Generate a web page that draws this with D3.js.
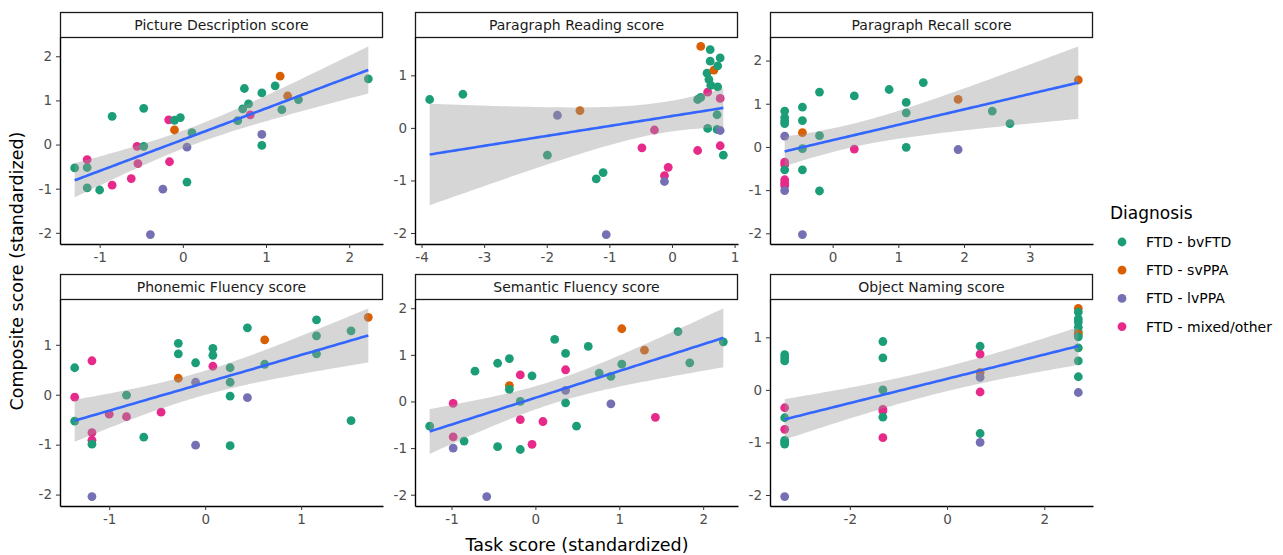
<!DOCTYPE html>
<html>
<head>
<meta charset="utf-8">
<script src="https://cdn.jsdelivr.net/npm/d3@7"></script>
<style>
  body { margin: 0; background: #fff; }
  svg { font-family: "DejaVu Sans", sans-serif; }
</style>
</head>
<body>
<div id="chart"></div>
<script>
// diagnosis groups and their colours (Dark2)
const groups = ["FTD - bvFTD", "FTD - svPPA", "FTD - lvPPA", "FTD - mixed/other"]
const groupColors = ["#1B9E77", "#D95F02", "#7570B3", "#E7298A"]

const panelTitles = ["Picture Description score", "Paragraph Reading score", "Paragraph Recall score",
    "Phonemic Fluency score", "Semantic Fluency score", "Object Naming score"]

// [task score, composite score, group index]
const pictureDescription = [
    [-1.30, -0.53, 0], [-1.15, -0.52, 0], [-1.15, -0.34, 3], [-1.15, -0.98, 0], [-1.00, -1.03, 0],
    [-0.85, 0.64, 0], [-0.85, -0.92, 3], [-0.62, -0.77, 3], [-0.55, -0.04, 3], [-0.54, -0.43, 3],
    [-0.47, 0.82, 0], [-0.47, -0.04, 0], [-0.39, -2.04, 2], [-0.24, -1.01, 2], [-0.17, 0.56, 3],
    [-0.16, -0.39, 3], [-0.10, 0.33, 1], [-0.10, 0.55, 0], [-0.03, 0.61, 0], [0.05, -0.06, 2],
    [0.05, -0.85, 0], [0.11, 0.27, 0], [0.66, 0.54, 0], [0.74, 1.27, 0], [0.72, 0.81, 0],
    [0.79, 0.92, 0], [0.81, 0.67, 3], [0.95, 0.23, 2], [0.95, -0.02, 0], [0.95, 1.17, 0],
    [1.11, 1.33, 0], [1.17, 1.55, 1], [1.19, 0.79, 0], [1.26, 1.10, 1], [1.39, 1.02, 0],
    [2.23, 1.49, 0]
]

const paragraphReading = [
    [-3.87, 0.54, 0], [-3.34, 0.64, 0], [-1.83, 0.24, 2], [-1.47, 0.33, 1], [-1.99, -0.52, 0],
    [-1.21, -0.97, 0], [-1.10, -0.85, 0], [-1.05, -2.03, 2], [-0.48, -0.38, 3], [-0.28, -0.04, 3],
    [-0.12, -0.91, 3], [-0.06, -0.75, 3], [-0.12, -1.02, 2], [0.41, -0.43, 3], [0.41, 0.54, 0],
    [0.46, 0.58, 0], [0.46, 1.55, 1], [0.57, 0.68, 3], [0.57, -0.01, 0], [0.56, 1.04, 0],
    [0.61, 1.49, 0], [0.61, 1.27, 0], [0.59, 0.92, 0], [0.62, 0.81, 0], [0.67, 1.10, 1],
    [0.73, 1.18, 0], [0.73, 0.78, 0], [0.72, 0.25, 0], [0.72, -0.03, 0], [0.77, 1.33, 0],
    [0.77, -0.05, 2], [0.77, 0.56, 3], [0.77, -0.34, 3], [0.82, -0.52, 0]
]

const paragraphRecall = [
    [-0.73, 0.83, 0], [-0.73, 0.68, 0], [-0.73, 0.60, 0], [-0.73, 0.54, 0], [-0.73, 0.25, 2],
    [-0.73, -0.35, 3], [-0.73, -0.41, 3], [-0.73, -0.53, 0], [-0.73, -0.76, 3], [-0.73, -0.84, 3],
    [-0.73, -0.90, 3], [-0.73, -1.01, 2], [-0.46, 0.92, 0], [-0.46, 0.61, 0], [-0.46, 0.33, 1],
    [-0.46, -0.04, 0], [-0.46, -0.53, 0], [-0.46, -2.03, 2], [-0.20, 1.27, 0], [-0.20, 0.26, 0],
    [-0.20, -1.02, 0], [0.33, 1.18, 0], [0.33, -0.05, 3], [0.86, 1.33, 0], [1.12, 1.03, 0],
    [1.12, 0.79, 0], [1.12, -0.01, 0], [1.38, 1.49, 0], [1.91, 1.10, 1], [1.91, -0.06, 2],
    [2.43, 0.83, 0], [2.70, 0.54, 0], [3.74, 1.55, 1]
]

const phonemicFluency = [
    [-1.36, 0.54, 0], [-1.36, -0.05, 3], [-1.36, -0.53, 0], [-1.18, 0.68, 3], [-1.18, -0.76, 3],
    [-1.18, -0.91, 3], [-1.18, -0.99, 0], [-1.18, -2.04, 2], [-1.00, -0.39, 3], [-0.82, -0.01, 0],
    [-0.82, -0.44, 3], [-0.64, -0.85, 0], [-0.46, -0.35, 3], [-0.28, 1.03, 0], [-0.28, 0.82, 0],
    [-0.28, 0.33, 1], [-0.10, 0.64, 0], [-0.10, 0.25, 2], [-0.10, -1.01, 2], [0.08, 0.93, 0],
    [0.08, 0.79, 0], [0.08, 0.57, 3], [0.26, 0.54, 0], [0.26, 0.25, 0], [0.26, -0.03, 0],
    [0.26, -1.02, 0], [0.44, 1.34, 0], [0.44, -0.06, 2], [0.62, 1.10, 1], [0.62, 0.61, 0],
    [1.16, 1.50, 0], [1.16, 1.18, 0], [1.16, 0.82, 0], [1.52, 1.28, 0], [1.52, -0.52, 0],
    [1.70, 1.55, 1]
]

const semanticFluency = [
    [-1.26, -0.53, 0], [-0.98, -0.04, 3], [-0.98, -0.76, 3], [-0.98, -1.00, 2], [-0.85, -0.85, 0],
    [-0.72, 0.65, 0], [-0.45, 0.82, 0], [-0.45, -0.97, 0], [-0.31, 0.92, 0], [-0.31, 0.34, 1],
    [-0.31, 0.26, 0], [-0.58, -2.04, 2], [-0.18, 0.57, 3], [-0.18, 0.00, 0], [-0.18, -0.39, 3],
    [-0.18, -1.03, 0], [-0.04, 0.55, 0], [-0.04, -0.92, 3], [0.09, -0.43, 3], [0.23, 1.33, 0],
    [0.36, 1.03, 0], [0.36, 0.68, 3], [0.36, 0.24, 2], [0.36, -0.03, 0], [0.49, -0.53, 0],
    [0.63, 1.18, 0], [0.76, 0.61, 0], [0.90, 0.54, 0], [0.90, -0.05, 2], [1.03, 0.80, 0],
    [1.03, 1.56, 1], [1.30, 1.10, 1], [1.43, -0.34, 3], [1.70, 1.50, 0], [1.84, 0.83, 0],
    [2.24, 1.28, 0]
]

const objectNaming = [
    [-3.34, 0.67, 0], [-3.34, 0.61, 0], [-3.34, 0.55, 0], [-3.34, -0.34, 3], [-3.34, -0.53, 0],
    [-3.34, -0.75, 3], [-3.34, -0.96, 0], [-3.34, -1.00, 0], [-3.34, -1.03, 0], [-3.34, -2.03, 2],
    [-1.32, 0.92, 0], [-1.32, 0.61, 0], [-1.32, 0.00, 0], [-1.32, -0.37, 3], [-1.32, -0.40, 3],
    [-1.32, -0.52, 0], [-1.32, -0.91, 3], [0.68, 0.83, 0], [0.68, 0.68, 3], [0.68, 0.33, 1],
    [0.68, 0.24, 2], [0.68, -0.04, 3], [0.68, -0.83, 0], [0.68, -1.00, 2], [2.70, 1.55, 1],
    [2.70, 1.48, 0], [2.70, 1.35, 0], [2.70, 1.29, 0], [2.70, 1.19, 0], [2.70, 1.10, 0],
    [2.70, 1.06, 1], [2.70, 1.01, 0], [2.70, 0.80, 0], [2.70, 0.55, 0], [2.70, 0.25, 0],
    [2.70, -0.05, 2]
]

const panelData = [pictureDescription, paragraphReading, paragraphRecall,
    phonemicFluency, semanticFluency, objectNaming]

const xTickValues = [[-1, 0, 1, 2], [-4, -3, -2, -1, 0, 1], [0, 1, 2, 3],
    [-1, 0, 1], [-1, 0, 1, 2], [-2, 0, 2]]
const yTickValues = [[-2, -1, 0, 1, 2], [-2, -1, 0, 1], [-2, -1, 0, 1, 2],
    [-2, -1, 0, 1], [-2, -1, 0, 1, 2], [-2, -1, 0, 1]]

// t quantile (0.975) approximation
function tq(df) {
    let z = 1.959964
    return z + (z ** 3 + z) / (4 * df) + (5 * z ** 5 + 16 * z ** 3 + 3 * z) / (96 * df * df)
}

// lm fit with 95% confidence band, 80 points like geom_smooth
function lmBand(pts) {
    let n = pts.length
    let mx = d3.mean(pts, d => d[0]), my = d3.mean(pts, d => d[1])
    let sxx = d3.sum(pts, d => (d[0] - mx) ** 2)
    let sxy = d3.sum(pts, d => (d[0] - mx) * (d[1] - my))
    let b = sxy / sxx, a = my - b * mx
    let sse = d3.sum(pts, d => (d[1] - a - b * d[0]) ** 2)
    let s = Math.sqrt(sse / (n - 2)), t = tq(n - 2)
    let [x0, x1] = d3.extent(pts, d => d[0])
    return d3.range(80).map(i => {
        let x = x0 + i * (x1 - x0) / 79
        let y = a + b * x
        let se = s * Math.sqrt(1 / n + (x - mx) ** 2 / sxx)
        return { x: x, y: y, lo: y - t * se, hi: y + t * se }
    })
}

function expand(ext) {
    let pad = (ext[1] - ext[0]) * 0.05
    return [ext[0] - pad, ext[1] + pad]
}

const svg = d3.select('#chart').append('svg')
    .attr('width', 1283)
    .attr('height', 555)

const panelW = 323, gapX = 32, left0 = 60
const stripH = 25, plotH = 207
const rowTops = [12, 274]

panelData.forEach((pts, i) => {
    let col = i % 3, row = Math.floor(i / 3)
    let px = left0 + col * (panelW + gapX)
    let py = rowTops[row] + stripH

    let band = lmBand(pts)
    let xDom = expand(d3.extent(pts, d => d[0]))
    let yDom = expand([
        Math.min(d3.min(pts, d => d[1]), d3.min(band, d => d.lo)),
        Math.max(d3.max(pts, d => d[1]), d3.max(band, d => d.hi))
    ])
    let x = d3.scaleLinear().domain(xDom).range([0, panelW])
    let y = d3.scaleLinear().domain(yDom).range([plotH, 0])

    // strip
    let strip = svg.append('g').attr('transform', `translate(${px}, ${rowTops[row]})`)
    strip.append('rect')
        .attr('x', 0.5).attr('y', 0.5)
        .attr('width', panelW - 1).attr('height', stripH)
        .attr('fill', '#fff').attr('stroke', '#1a1a1a').attr('stroke-width', 1.3)
    strip.append('text')
        .attr('x', panelW / 2).attr('y', stripH / 2 + 5.5)
        .attr('text-anchor', 'middle')
        .attr('font-size', 14).attr('fill', '#1a1a1a')
        .text(panelTitles[i])

    let g = svg.append('g').attr('transform', `translate(${px}, ${py})`)

    g.selectAll('circle')
        .data(pts)
        .enter()
        .append('circle')
        .attr('cx', d => x(d[0]))
        .attr('cy', d => y(d[1]))
        .attr('r', 4.4)
        .attr('fill', d => groupColors[d[2]])

    g.append('path')
        .datum(band)
        .attr('d', d3.area().x(d => x(d.x)).y0(d => y(d.lo)).y1(d => y(d.hi)))
        .attr('fill', '#999999')
        .attr('fill-opacity', 0.4)

    g.append('path')
        .datum(band)
        .attr('d', d3.line().x(d => x(d.x)).y(d => y(d.y)))
        .attr('fill', 'none')
        .attr('stroke', '#3366FF')
        .attr('stroke-width', 2.6)

    let xAxis = g.append('g')
        .attr('transform', `translate(0, ${plotH})`)
        .call(d3.axisBottom(x).tickValues(xTickValues[i]).tickSize(4).tickSizeOuter(0).tickPadding(4)
            .tickFormat(d3.format('d')))
    let yAxis = g.append('g')
        .call(d3.axisLeft(y).tickValues(yTickValues[i]).tickSize(4).tickSizeOuter(0).tickPadding(4)
            .tickFormat(d3.format('d')))

    ;[xAxis, yAxis].forEach(ax => {
        ax.select('.domain').attr('stroke', '#000').attr('stroke-width', 1.4)
        ax.selectAll('.tick line').attr('stroke', '#333')
        ax.selectAll('.tick text')
            .attr('font-family', 'DejaVu Sans, sans-serif')
            .attr('font-size', 13.5).attr('fill', '#4d4d4d')
            .text(d => d < 0 ? '-' + Math.abs(d) : d)
    })
})

// axis titles
svg.append('text')
    .attr('x', 577).attr('y', 551)
    .attr('text-anchor', 'middle')
    .attr('font-size', 17.5)
    .text('Task score (standardized)')

svg.append('text')
    .attr('transform', 'translate(23, 271) rotate(-90)')
    .attr('text-anchor', 'middle')
    .attr('font-size', 17.5)
    .text('Composite score (standardized)')

// legend
let legend = svg.append('g').attr('transform', 'translate(1110, 219)')
legend.append('text')
    .attr('x', 0).attr('y', 0)
    .attr('font-size', 17)
    .text('Diagnosis')

let items = legend.selectAll('.item')
    .data(groups)
    .enter()
    .append('g')
    .attr('transform', (d, i) => `translate(0, ${23 + i * 28.2})`)
items.append('circle')
    .attr('cx', 12).attr('cy', 0).attr('r', 4.4)
    .attr('fill', (d, i) => groupColors[i])
items.append('text')
    .attr('x', 36).attr('y', 5)
    .attr('font-size', 14)
    .text(d => d)
</script>
</body>
</html>
